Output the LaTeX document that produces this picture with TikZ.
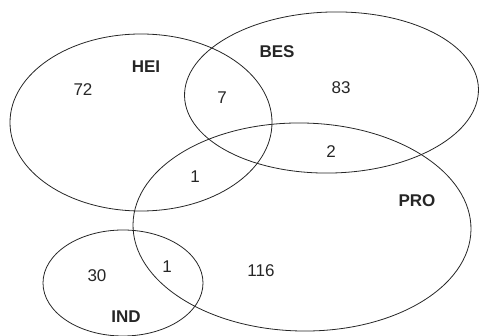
\documentclass[tikz,border=0pt]{standalone}
\usepackage{fontspec}
\setmainfont{Liberation Sans}
\usetikzlibrary{shapes.geometric}
\begin{document}
\begin{tikzpicture}[x=1pt,y=-1pt,
  setshape/.style={draw=black!85, line width=0.8pt, ellipse, inner sep=0pt, fill=none},
  countlabel/.style={font=\fontsize{17}{19}\selectfont, text=black!85, inner sep=0pt},
  setlabel/.style={font=\fontsize{17}{19}\selectfont\bfseries, text=black!85, inner sep=0pt}]
\useasboundingbox (0,0) rectangle (479,336);
% sets
\node[setshape, minimum width=262pt, minimum height=177pt] (hei) at (141,122.5) {};
\node[setshape, minimum width=294pt, minimum height=161pt, rotate=1.5] (bes) at (331.5,92.5) {};
\node[setshape, minimum width=338pt, minimum height=208pt, rotate=-1] (pro) at (302,227) {};
\node[setshape, minimum width=160pt, minimum height=106pt] (ind) at (123,283) {};
% set names
\node[setlabel] (heiname) at (146,67) {HEI};
\node[setlabel] (besname) at (277,52) {BES};
\node[setlabel] (proname) at (417,201) {PRO};
\node[setlabel] (indname) at (126,317) {IND};
% counts
\node[countlabel] (n72) at (83,90) {72};
\node[countlabel] (n7) at (222,98) {7};
\node[countlabel] (n83) at (341,88) {83};
\node[countlabel] (n2) at (331,152) {2};
\node[countlabel] (n1a) at (195,177) {1};
\node[countlabel] (n1b) at (167,267) {1};
\node[countlabel] (n30) at (97,276) {30};
\node[countlabel] (n116) at (261,271) {116};
\end{tikzpicture}
\end{document}
